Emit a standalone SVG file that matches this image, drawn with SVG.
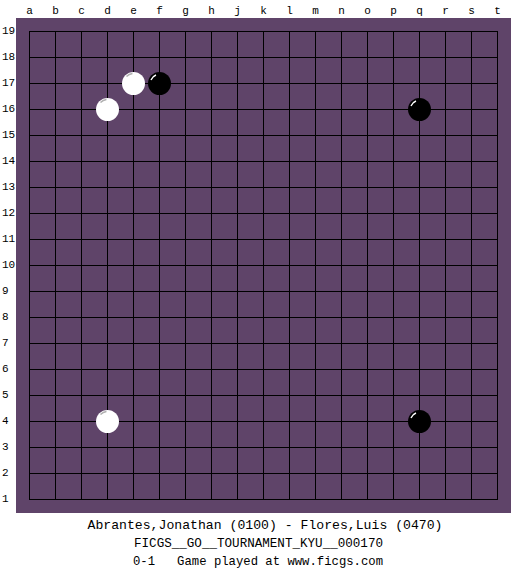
<svg xmlns="http://www.w3.org/2000/svg" width="525" height="575" viewBox="0 0 525 575">
<style>
.lbl{font-family:"Liberation Mono","DejaVu Sans Mono",monospace;font-size:11px;fill:#000}
.cap{font-family:"Liberation Mono","DejaVu Sans Mono",monospace;font-size:13px;fill:#000;text-anchor:middle}
.grid{stroke:#000;stroke-width:1;fill:none}
.b{fill:#000}
.w{fill:#fff}
.bh{stroke:#fff;stroke-width:1.4;fill:none}
.wh{stroke:#b0b0b0;stroke-width:1.4;fill:none}
</style>
<rect width="525" height="575" fill="#fff"/>
<rect id="board" x="16" y="18" width="495" height="495" fill="#5f4469"/>
<g id="grid" class="grid">
<path d="M29.5 31V500M55.5 31V500M81.5 31V500M107.5 31V500M133.5 31V500M159.5 31V500M185.5 31V500M211.5 31V500M237.5 31V500M263.5 31V500M289.5 31V500M315.5 31V500M341.5 31V500M367.5 31V500M393.5 31V500M419.5 31V500M445.5 31V500M471.5 31V500M497.5 31V500"/>
<path d="M29 31.5H498M29 57.5H498M29 83.5H498M29 109.5H498M29 135.5H498M29 161.5H498M29 187.5H498M29 213.5H498M29 239.5H498M29 265.5H498M29 291.5H498M29 317.5H498M29 343.5H498M29 369.5H498M29 395.5H498M29 421.5H498M29 447.5H498M29 473.5H498M29 499.5H498"/>
</g>
<g id="cols" class="lbl" text-anchor="middle">
<text x="29.5" y="14">a</text><text x="55.5" y="14">b</text><text x="81.5" y="14">c</text><text x="107.5" y="14">d</text><text x="133.5" y="14">e</text><text x="159.5" y="14">f</text><text x="185.5" y="14">g</text><text x="211.5" y="14">h</text><text x="237.5" y="14">j</text><text x="263.5" y="14">k</text><text x="289.5" y="14">l</text><text x="315.5" y="14">m</text><text x="341.5" y="14">n</text><text x="367.5" y="14">o</text><text x="393.5" y="14">p</text><text x="419.5" y="14">q</text><text x="445.5" y="14">r</text><text x="471.5" y="14">s</text><text x="497.5" y="14">t</text>
</g>
<g id="rows" class="lbl">
<text x="2" y="33.5">19</text><text x="2" y="59.5">18</text><text x="2" y="85.5">17</text><text x="2" y="111.5">16</text><text x="2" y="137.5">15</text><text x="2" y="163.5">14</text><text x="2" y="189.5">13</text><text x="2" y="215.5">12</text><text x="2" y="241.5">11</text><text x="2" y="267.5">10</text><text x="2" y="293.5">9</text><text x="2" y="319.5">8</text><text x="2" y="345.5">7</text><text x="2" y="371.5">6</text><text x="2" y="397.5">5</text><text x="2" y="423.5">4</text><text x="2" y="449.5">3</text><text x="2" y="475.5">2</text><text x="2" y="501.5">1</text>
</g>
<g id="stone-e17"><circle class="w" cx="133.5" cy="83.5" r="11.5"/><path class="wh" d="M126.5 76.5A10 10 0 0 1 132.5 73.5"/></g>
<g id="stone-f17"><circle class="b" cx="159.5" cy="83.5" r="11.5"/><path class="bh" d="M151 80A9 9 0 0 1 156 75"/></g>
<g id="stone-d16"><circle class="w" cx="107.5" cy="109.5" r="11.5"/><path class="wh" d="M100.5 102.5A10 10 0 0 1 106.5 99.5"/></g>
<g id="stone-q16"><circle class="b" cx="419.5" cy="109.5" r="11.5"/><path class="bh" d="M411 106A9 9 0 0 1 416 101"/></g>
<g id="stone-d4"><circle class="w" cx="107.5" cy="421.5" r="11.5"/><path class="wh" d="M100.5 414.5A10 10 0 0 1 106.5 411.5"/></g>
<g id="stone-q4"><circle class="b" cx="419.5" cy="421.5" r="11.5"/><path class="bh" d="M411 418A9 9 0 0 1 416 413"/></g>
<g id="caption">
<text class="cap" x="265" y="529" textLength="355" lengthAdjust="spacingAndGlyphs">Abrantes,Jonathan (0100) - Flores,Luis (0470)</text>
<text class="cap" x="258.5" y="547" textLength="249" lengthAdjust="spacingAndGlyphs">FICGS__GO__TOURNAMENT_KYU__000170</text>
<text class="cap" x="258" y="565" textLength="250" lengthAdjust="spacingAndGlyphs" xml:space="preserve">0-1   Game played at www.ficgs.com</text>
</g>
</svg>
